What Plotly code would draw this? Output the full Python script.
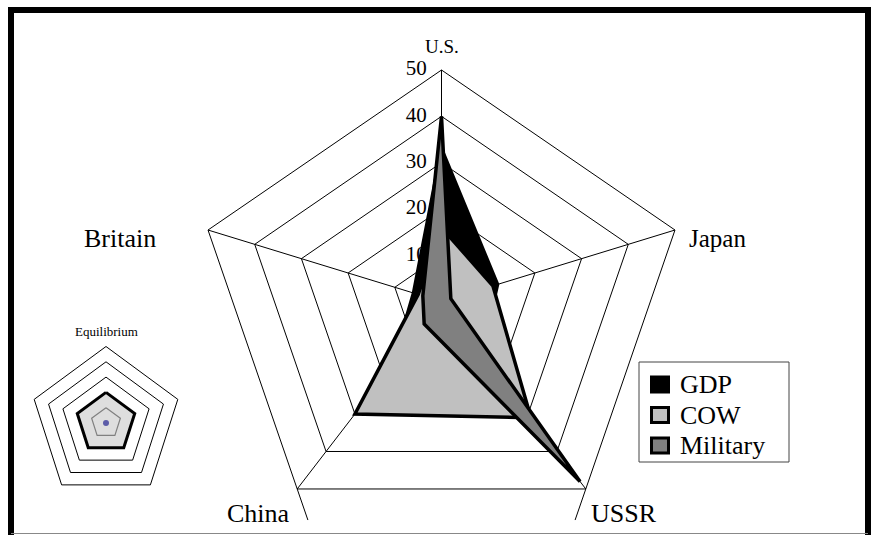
import numpy as np
import plotly.graph_objects as go

# Five powers on the radar, clockwise from the top
powers = ["U.S.", "Japan", "USSR", "China", "Britain"]

# Shares (%) per power
gdp = [33, 12, 14, 17, 6]
cow = [16, 11, 31, 30, 5]
military = [40, 2, 48, 6, 4]

# Radial scale
ring_values = [10, 20, 30, 40, 50]
tick_values = [0, 10, 20, 30, 40, 50]
tick_labels = ["0", "10", "20", "30", "40", "50"]

# Small "Equilibrium" radar
equilibrium = [20, 20, 20, 20, 20]
inner_band = [10, 10, 10, 10, 10]
origin = [0]
eq_rings = [30, 40, 50]

W, H = 876, 535
SERIF = "Liberation Serif, Times New Roman, serif"

# pixel geometry of the main radar and the inset
MAIN_C = (441.5, 301.6)
MAIN_PX = (4.91, 4.632)      # px per unit (x, y)
INSET_C = (106.0, 423.0)
INSET_PX = (1.51, 1.53)

angles = np.linspace(0, 2 * np.pi, len(powers), endpoint=False)


def polar_xy(values, closed=True):
    v = np.asarray(values, dtype=float)
    x = v * np.sin(angles[: len(v)])
    y = v * np.cos(angles[: len(v)])
    if closed:
        x = np.append(x, x[0])
        y = np.append(y, y[0])
    return x, y


def axis_range(center, px):
    cx, cy = center
    sx, sy = px
    return [-cx / sx, (W - cx) / sx], [-(H - cy) / sy, cy / sy]


def px_to_paper(x, y):
    return x / W, 1 - y / H


fig = go.Figure()

# ---- main radar grid ----
gx, gy = [], []
for r in ring_values:
    x, y = polar_xy([r] * 5)
    gx += list(x) + [None]
    gy += list(y) + [None]
for a in angles:
    gx += [0, 50 * np.sin(a), None]
    gy += [0, 50 * np.cos(a), None]
# the two lower side edges of the outer ring run on a little past the corners
ox, oy = polar_xy([50] * 5, closed=False)
for side_from, side_to in [(1, 2), (4, 3)]:
    dx, dy = ox[side_to] - ox[side_from], oy[side_to] - oy[side_from]
    gx += [ox[side_to], ox[side_to] + 0.12 * dx, None]
    gy += [oy[side_to], oy[side_to] + 0.12 * dy, None]
fig.add_trace(go.Scatter(x=gx, y=gy, mode="lines", line=dict(color="black", width=1),
                         hoverinfo="skip", showlegend=False))

# radial tick labels (sit under the filled areas)
fig.add_trace(go.Scatter(x=[-3.0] * len(tick_values), y=tick_values, mode="text",
                         text=tick_labels, textposition="middle left",
                         textfont=dict(family=SERIF, size=21, color="black"),
                         hoverinfo="skip", showlegend=False))

# ---- filled series ----
series = [("GDP", gdp, "#000000"), ("COW", cow, "#c0c0c0"), ("Military", military, "#808080")]
for name, vals, col in series:
    x, y = polar_xy(vals)
    fig.add_trace(go.Scatter(x=x, y=y, mode="lines", fill="toself", fillcolor=col,
                             line=dict(color="black", width=3.5), name=name,
                             showlegend=False, hoverinfo="skip"))

# category labels
label_style = {
    "U.S.": dict(xanchor="center", yanchor="bottom", xshift=0, yshift=11, size=19),
    "Japan": dict(xanchor="left", yanchor="middle", xshift=12, yshift=-8, size=25),
    "USSR": dict(xanchor="left", yanchor="top", xshift=3, yshift=-8, size=26),
    "China": dict(xanchor="right", yanchor="top", xshift=-5, yshift=-8, size=26),
    "Britain": dict(xanchor="right", yanchor="middle", xshift=-50, yshift=-8, size=26),
}
for name, x, y in zip(powers, ox, oy):
    st = label_style[name]
    fig.add_annotation(x=x, y=y, xref="x", yref="y", text=name, showarrow=False,
                       xanchor=st["xanchor"], yanchor=st["yanchor"],
                       xshift=st["xshift"], yshift=st["yshift"],
                       font=dict(family=SERIF, size=st["size"], color="black"))

# ---- legend (boxed, square keys) ----
LEG_BOX = (639, 362, 789, 462)
LEG_ROW0, LEG_STEP = 384.5, 30.5
shapes = []
x0, y0 = px_to_paper(LEG_BOX[0], LEG_BOX[3])
x1, y1 = px_to_paper(LEG_BOX[2], LEG_BOX[1])
shapes.append(dict(type="rect", xref="paper", yref="paper", x0=x0, x1=x1, y0=y0, y1=y1,
                   line=dict(color="#444", width=1), fillcolor="white", layer="above"))
for i, (name, vals, col) in enumerate(series):
    cy = LEG_ROW0 + i * LEG_STEP
    ax0, ay0 = px_to_paper(651.5, cy + 7.5)
    ax1, ay1 = px_to_paper(668.5, cy - 7.5)
    shapes.append(dict(type="rect", xref="paper", yref="paper", x0=ax0, x1=ax1, y0=ay0, y1=ay1,
                       line=dict(color="black", width=3), fillcolor=col, layer="above"))
    tx, ty = px_to_paper(678, cy)
    fig.add_annotation(x=tx, y=ty, xref="paper", yref="paper", text=name, showarrow=False,
                       xanchor="left", yanchor="middle",
                       font=dict(family=SERIF, size=26, color="black"))

# ---- inset: equilibrium radar ----
ex, ey = [], []
for r in eq_rings:
    x, y = polar_xy([r] * 5)
    ex += list(x) + [None]
    ey += list(y) + [None]
fig.add_trace(go.Scatter(x=ex, y=ey, xaxis="x2", yaxis="y2", mode="lines",
                         line=dict(color="black", width=1), hoverinfo="skip", showlegend=False))
x, y = polar_xy(equilibrium)
fig.add_trace(go.Scatter(x=x, y=y, xaxis="x2", yaxis="y2", mode="lines", fill="toself",
                         fillcolor="#dedede", line=dict(color="black", width=3),
                         hoverinfo="skip", showlegend=False))
x, y = polar_xy(inner_band)
fig.add_trace(go.Scatter(x=x, y=y, xaxis="x2", yaxis="y2", mode="lines",
                         line=dict(color="#808080", width=1.2), hoverinfo="skip", showlegend=False))
fig.add_trace(go.Scatter(x=[0], y=origin, xaxis="x2", yaxis="y2", mode="markers",
                         marker=dict(color="#5c5ca8", size=6), hoverinfo="skip", showlegend=False))
fig.add_annotation(x=0, y=60, xref="x2", yref="y2", text="Equilibrium", showarrow=False,
                   font=dict(family=SERIF, size=13, color="black"))

# outer frame (open at the bottom) and thin bottom rule
fl, ft = px_to_paper(11, 10)
fr, _ = px_to_paper(868, 10)
shapes.append(dict(type="path", xref="paper", yref="paper",
                   path=f"M {fl} -0.05 L {fl} {ft} L {fr} {ft} L {fr} -0.05",
                   line=dict(color="black", width=6)))
_, fb = px_to_paper(0, 533.5)
shapes.append(dict(type="line", xref="paper", yref="paper", x0=fl, x1=fr, y0=fb, y1=fb,
                   line=dict(color="#888", width=1)))

# ---- axes ----
mx, my = axis_range(MAIN_C, MAIN_PX)
ix, iy = axis_range(INSET_C, INSET_PX)
hidden = dict(visible=False, showgrid=False, zeroline=False, fixedrange=True)
fig.update_layout(
    width=W, height=H,
    margin=dict(l=0, r=0, t=0, b=0),
    paper_bgcolor="white", plot_bgcolor="white",
    showlegend=False,
    xaxis=dict(range=mx, domain=[0, 1], **hidden),
    yaxis=dict(range=my, domain=[0, 1], **hidden),
    xaxis2=dict(range=ix, domain=[0, 1], anchor="y2", overlaying="x", **hidden),
    yaxis2=dict(range=iy, domain=[0, 1], anchor="x2", overlaying="y", **hidden),
    shapes=shapes,
)

fig.write_html("out.html")
